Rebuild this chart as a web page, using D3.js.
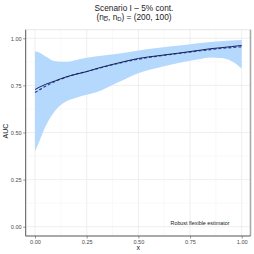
<!DOCTYPE html>
<html><head><meta charset="utf-8">
<script src="https://cdn.jsdelivr.net/npm/d3@7"></script>
<style>html,body{margin:0;padding:0;background:#fff;}svg{display:block;}</style>
</head><body>
<script>
const xs       = [0, 0.02, 0.05, 0.1, 0.15, 0.2, 0.25, 0.3, 0.4, 0.5, 0.6, 0.7, 0.8, 0.85, 0.9, 0.95, 1.0];
const upper    = [0.93, 0.925, 0.905, 0.878, 0.875, 0.885, 0.897, 0.905, 0.918, 0.935, 0.95, 0.962, 0.975, 0.98, 0.984, 0.988, 0.991];
const lower    = [0.40, 0.45, 0.53, 0.62, 0.665, 0.685, 0.70, 0.715, 0.765, 0.815, 0.845, 0.87, 0.89, 0.898, 0.895, 0.88, 0.84];
const estimate = [0.728, 0.74, 0.755, 0.775, 0.795, 0.81, 0.823, 0.84, 0.868, 0.893, 0.908, 0.922, 0.937, 0.945, 0.95, 0.956, 0.962];
const truth    = [0.712, 0.725, 0.745, 0.772, 0.793, 0.81, 0.824, 0.838, 0.866, 0.889, 0.906, 0.92, 0.934, 0.94, 0.946, 0.951, 0.955];
const xTicks = [0, 0.25, 0.5, 0.75, 1];
const yTicks = [0, 0.25, 0.5, 0.75, 1];
const xMinor = [0.125, 0.375, 0.625, 0.875];
const yMinor = [0.125, 0.375, 0.625, 0.875];
const titleLine1 = "Scenario I – 5% cont.";
const annotation = "Robust flexible estimator";

const W = 254, H = 254;
const P = {l: 25.7, r: 250.5, t: 29.7, b: 236};
const x = d3.scaleLinear().domain([0, 1]).range([35, 241.7]);
const y = d3.scaleLinear().domain([0, 1]).range([226.7, 38.3]);

const svg = d3.select("body").append("svg").attr("width", W).attr("height", H)
  .style("font-family", "Liberation Sans, Arial, sans-serif");

svg.append("rect").attr("x", P.l).attr("y", P.t).attr("width", P.r - P.l).attr("height", P.b - P.t).attr("fill", "#fff");

const grid = svg.append("g");
xMinor.forEach(v => grid.append("line").attr("x1", x(v)).attr("x2", x(v)).attr("y1", P.t).attr("y2", P.b).attr("stroke", "#f2f2f2").attr("stroke-width", 0.5));
yMinor.forEach(v => grid.append("line").attr("y1", y(v)).attr("y2", y(v)).attr("x1", P.l).attr("x2", P.r).attr("stroke", "#f2f2f2").attr("stroke-width", 0.5));
xTicks.forEach(v => grid.append("line").attr("x1", x(v)).attr("x2", x(v)).attr("y1", P.t).attr("y2", P.b).attr("stroke", "#ebebeb").attr("stroke-width", 0.8));
yTicks.forEach(v => grid.append("line").attr("y1", y(v)).attr("y2", y(v)).attr("x1", P.l).attr("x2", P.r).attr("stroke", "#ebebeb").attr("stroke-width", 0.8));

const data = xs.map((v, i) => ({x: v, lo: lower[i], hi: upper[i], est: estimate[i], tr: truth[i]}));

svg.append("path").datum(data)
  .attr("d", d3.area().x(d => x(d.x)).y0(d => y(d.lo)).y1(d => y(d.hi)).curve(d3.curveMonotoneX))
  .attr("fill", "#b5d9fc");

svg.append("path").datum(data)
  .attr("d", d3.line().x(d => x(d.x)).y(d => y(d.tr)).curve(d3.curveMonotoneX))
  .attr("fill", "none").attr("stroke", "#2a3fb0").attr("stroke-width", 1.2).attr("stroke-dasharray", "3,2");

svg.append("path").datum(data)
  .attr("d", d3.line().x(d => x(d.x)).y(d => y(d.est)).curve(d3.curveMonotoneX))
  .attr("fill", "none").attr("stroke", "#1b2350").attr("stroke-width", 1);

svg.append("line").attr("x1", P.l).attr("x2", P.r).attr("y1", P.t).attr("y2", P.t).attr("stroke", "#d9d9d9").attr("stroke-width", 0.6);
svg.append("line").attr("x1", P.r).attr("x2", P.r).attr("y1", P.t).attr("y2", P.b).attr("stroke", "#aaaaaa").attr("stroke-width", 1.6);

const xAxis = svg.append("g").attr("transform", `translate(0,${P.b})`)
  .call(d3.axisBottom(x).tickValues(xTicks).tickFormat(d3.format(".2f")).tickSize(2.5).tickPadding(1.5));
xAxis.select(".domain").attr("d", `M${P.l},0H${P.r}`).attr("stroke", "#555").attr("stroke-width", 1);
const yAxis = svg.append("g").attr("transform", `translate(${P.l},0)`)
  .call(d3.axisLeft(y).tickValues(yTicks).tickFormat(d3.format(".2f")).tickSize(2.5).tickPadding(1.5));
yAxis.select(".domain").attr("d", `M0,${P.t}V${P.b}`).attr("stroke", "#555").attr("stroke-width", 1);
[xAxis, yAxis].forEach(a => {
  a.selectAll(".tick line").attr("stroke", "#555").attr("stroke-width", 0.6);
  a.selectAll(".tick text").attr("fill", "#4d4d4d").style("font-size", "5.6px");
});

svg.append("text").attr("x", 134).attr("y", 10.5).attr("text-anchor", "middle")
  .style("font-size", "8.3px").attr("fill", "#1a1a1a").text(titleLine1);
const t2 = svg.append("text").attr("x", 134).attr("y", 19.5).attr("text-anchor", "middle")
  .style("font-size", "8.3px").attr("fill", "#1a1a1a");
t2.append("tspan").text("(n");
t2.append("tspan").attr("dy", 1.6).style("font-size", "5.8px").style("text-decoration", "overline").text("D");
t2.append("tspan").attr("dy", -1.6).text(", n");
t2.append("tspan").attr("dy", 1.6).style("font-size", "5.8px").text("D");
t2.append("tspan").attr("dy", -1.6).text(") = (200, 100)");

svg.append("text").attr("transform", "translate(8,131) rotate(-90)").attr("text-anchor", "middle")
  .style("font-size", "7px").attr("fill", "#1a1a1a").text("AUC");
svg.append("text").attr("x", 138.3).attr("y", 250).attr("text-anchor", "middle")
  .style("font-size", "7px").attr("fill", "#1a1a1a").text("x");

svg.append("text").attr("x", 200).attr("y", 224.5).attr("text-anchor", "middle")
  .style("font-size", "5.4px").attr("fill", "#1a1a1a").text(annotation);
</script>
</body></html>
